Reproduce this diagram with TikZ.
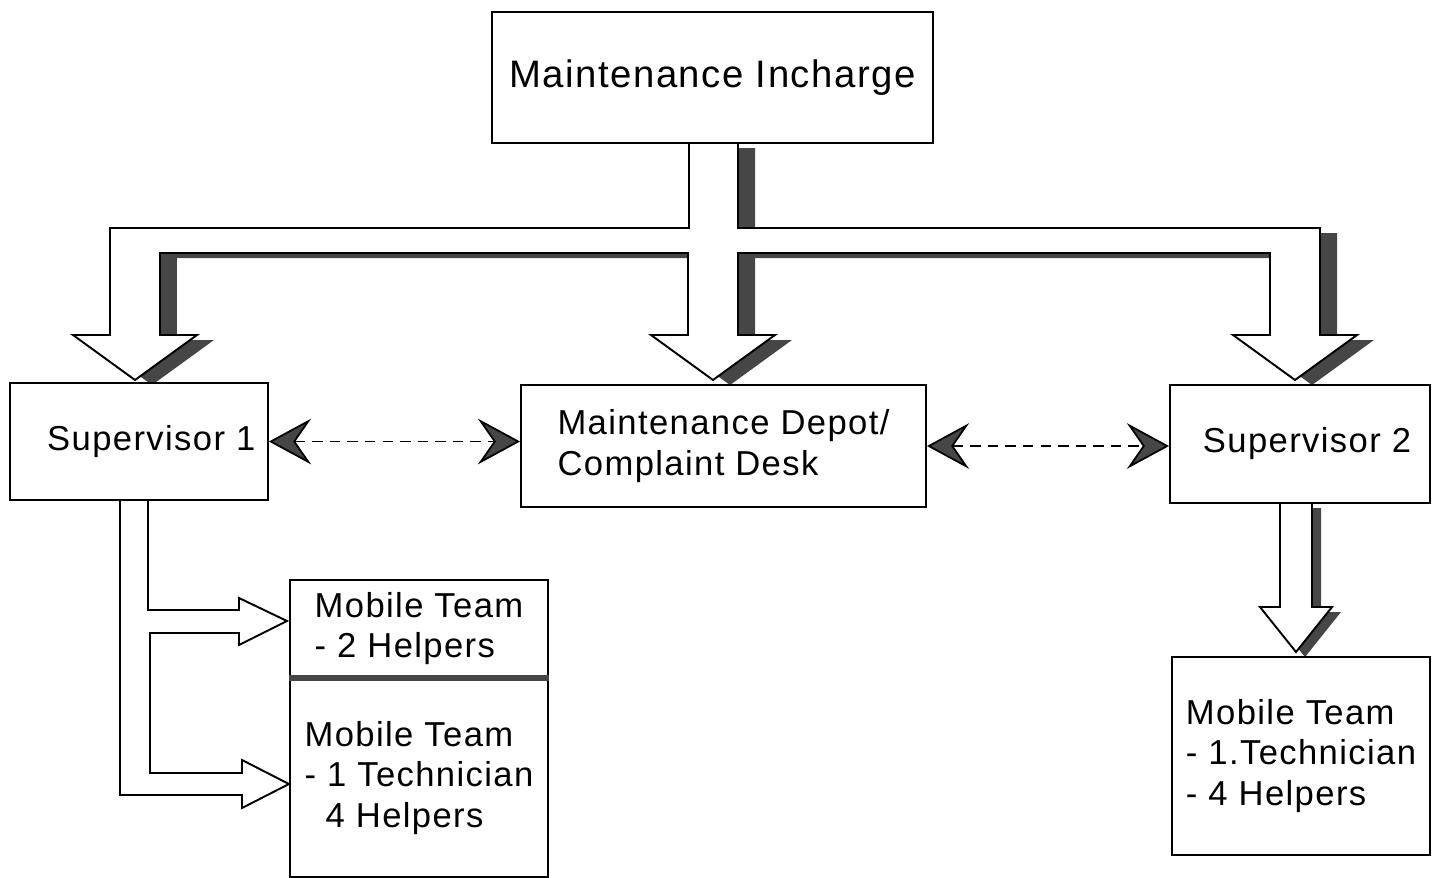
\documentclass[tikz,border=0pt]{standalone}
\usepackage{fontspec}
\setmainfont{Liberation Sans}[LetterSpace=4]
\usetikzlibrary{positioning, arrows.meta, shadows}
\definecolor{shadegray}{RGB}{70,70,70}

\begin{document}
\begin{tikzpicture}[
  x=0.02cm, y=-0.02cm,
  box/.style={draw, line width=1.1pt, fill=white, align=left, inner sep=0pt,
              font=\fontsize{19.7}{23}\selectfont},
  block/.style={draw, line width=1.1pt, fill=white},
  dropshade/.style={drop shadow={shadow xshift=#1, shadow yshift=-0.1cm,
                    fill=shadegray, opacity=1}},
  link/.style={dashed, dash pattern=on 6pt off 4pt, line width=1pt,
               {Stealth[length=24pt, width=26pt, inset=9pt, fill=shadegray]}-{Stealth[length=24pt, width=26pt, inset=9pt, fill=shadegray]}}
]
  \useasboundingbox (0,0) rectangle (1441,877);

  % block arrows behind the boxes
  \draw[block, dropshade=0.34cm] (689,143) -- (689,228) -- (110,228) -- (110,335) -- (73,335)
    -- (135,380) -- (197,335) -- (160,335) -- (160,253) -- (688,253) -- (688,335) -- (651,335)
    -- (713,380) -- (775,335) -- (738,335) -- (738,253) -- (1270,253) -- (1270,335) -- (1233,335)
    -- (1295,380) -- (1357,335) -- (1320,335) -- (1320,228) -- (738,228) -- (738,143) -- cycle;
  \draw[block] (120,500) -- (120,795) -- (242,795) -- (242,808) -- (289,784) -- (242,760)
    -- (242,773) -- (150,773) -- (150,633) -- (239,633) -- (239,645) -- (287,621) -- (239,598)
    -- (239,610) -- (148,610) -- (148,500) -- cycle;
  \draw[block, dropshade=0.18cm] (1280,503) -- (1280,607) -- (1260,607) -- (1296,652)
    -- (1332,607) -- (1312,607) -- (1312,503) -- cycle;

  \node[box, minimum width=8.82cm, minimum height=2.62cm, font=\fontsize{21.8}{26}\selectfont]
    (incharge) at (712.5,77.5) {Maintenance Incharge};
  \node[box, minimum width=5.16cm, minimum height=2.34cm] (sup1) at (139,441.5) {\hspace*{14pt}Supervisor 1};
  \node[box, minimum width=8.1cm, minimum height=2.44cm] (depot) at (723.5,446) {Maintenance Depot/\\Complaint Desk};
  \node[box, minimum width=5.2cm, minimum height=2.36cm] (sup2) at (1300,444) {\hspace*{8pt}Supervisor 2};
  \node[box, minimum width=5.16cm, minimum height=1.94cm] (teamA) at (419,628.5) {Mobile Team\\- 2 Helpers};
  \node[box, minimum width=5.16cm, minimum height=3.96cm, below=0pt of teamA] (teamB)
    {Mobile Team\\- 1 Technician\\\hspace*{12pt}4 Helpers};
  \node[box, minimum width=5.16cm, minimum height=3.96cm] (teamC) at (1301,756)
    {Mobile Team\\- 1.Technician\\- 4 Helpers};
  \draw[line width=3pt, shadegray] (teamA.south west) -- (teamA.south east);

  \draw[link] (sup1.east) -- (sup1.east -| depot.west);
  \draw[link] (depot.east) -- (depot.east -| sup2.west);
\end{tikzpicture}
\end{document}
